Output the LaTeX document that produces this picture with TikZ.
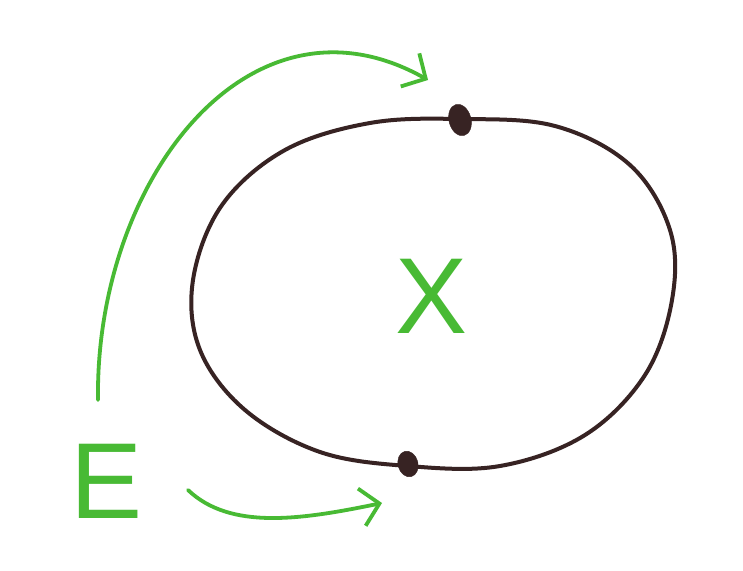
\documentclass[tikz,border=0pt]{standalone}
\usepackage{fontspec}
\setmainfont{Liberation Sans}
\usetikzlibrary{arrows.meta}
\definecolor{pen}{RGB}{72,186,52}
\definecolor{ink}{RGB}{55,35,35}
\tikzset{
  greenpen/.style={draw=pen, line width=3.8pt, line cap=round, line join=round},
  ring/.style={draw=ink, line width=4pt},
  bead/.style={fill=ink, draw=ink},
  letter/.style={text=pen, font=\fontsize{108}{108}\selectfont, inner sep=0pt},
  barb/.style={-{Straight Barb[length=18pt,width=38pt,line width=3.8pt]}}
}
\begin{document}
\begin{tikzpicture}[x=1pt,y=-1pt]
\useasboundingbox (0,0) rectangle (743,570);
\fill[white] (0,0) rectangle (743,570);
% ring
\draw[ring] plot[smooth cycle, tension=0.6] coordinates {
 (460,119) (555,126) (630,165) (670,230) (672,300) (645,375) (585,435) (500,466)
 (408,466) (320,452) (245,410) (200,350) (193,280) (222,205) (285,150) (370,123)};
\fill[bead, rotate around={15:(460,120)}] (460,120) ellipse (11 and 16);
\fill[bead, rotate around={15:(408,464)}] (408,464) ellipse (10 and 13);
% labels
\node[letter, anchor=base west] (E) at (70,518) {E};
\node[letter, anchor=base] (X) at (432,333) {X};
% arrows
\coordinate (a1s) at (98,400);
\coordinate (a1e) at (428,80);
\draw[greenpen, barb] (a1s) .. controls (95,180) and (250,-20) .. (a1e);
\coordinate (a2s) at (188,490);
\coordinate (a2e) at (382,503);
\draw[greenpen, barb] (a2s) .. controls (230,530) and (300,520) .. (a2e);
\end{tikzpicture}
\end{document}
